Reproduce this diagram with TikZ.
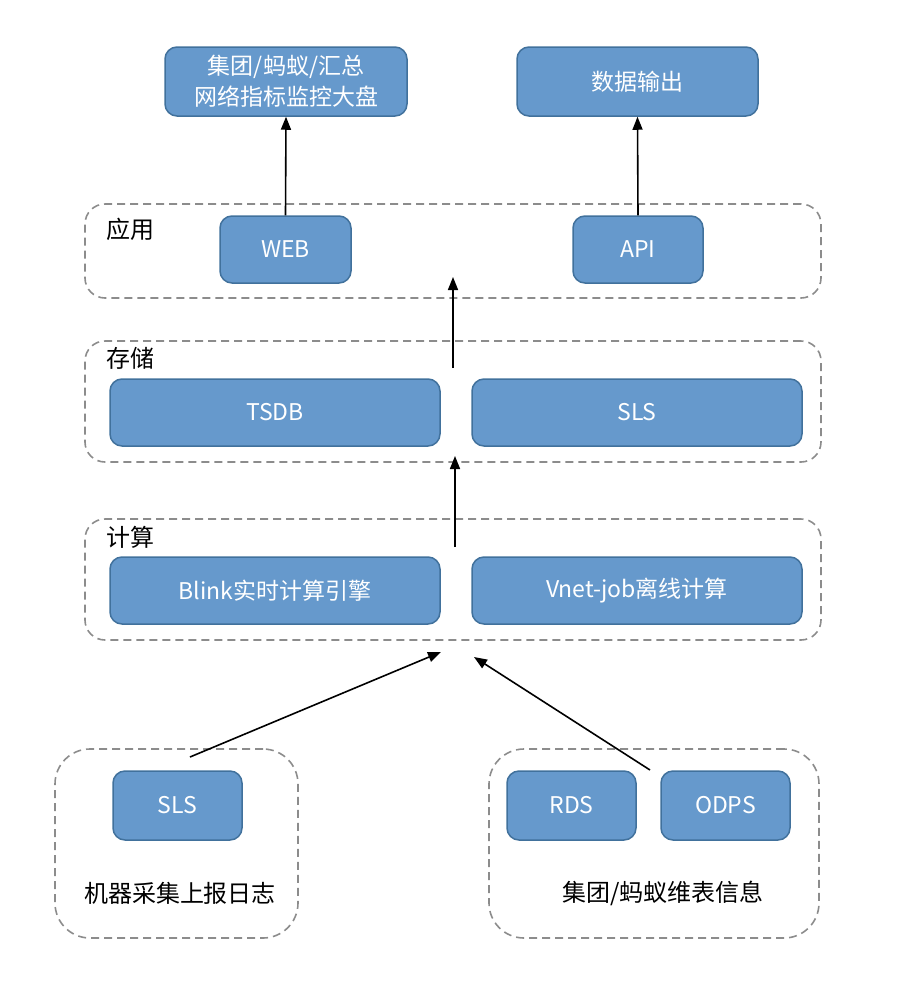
\documentclass[tikz,border=0pt]{standalone}
\usepackage{fontspec}
\setmainfont{Noto Sans CJK SC}
\usetikzlibrary{arrows.meta}
\definecolor{boxfill}{HTML}{6699CC}
\definecolor{boxline}{HTML}{41719C}
\definecolor{grpline}{HTML}{8C8C8C}
\tikzset{
  bluebox/.style={draw=boxline, fill=boxfill, line width=1.5pt, rounded corners=12pt,
    text=white, font=\fontsize{23}{31}\selectfont, align=center, inner sep=0pt},
  grp/.style={draw=grpline, line width=1.6pt, dash pattern=on 8pt off 5pt, rounded corners=20pt, inner sep=0pt},
  grplabel/.style={font=\fontsize{24}{28}\selectfont, text=black, inner sep=0pt},
  arr/.style={line width=1.6pt, -{Triangle[length=13pt,width=10pt]}}
}
\begin{document}
\begin{tikzpicture}[x=1pt,y=-1pt]
\useasboundingbox (0,0) rectangle (900,986);
% groups
\node[grp, minimum width=736pt, minimum height=94pt] (gapp) at (453,251) {};
\node[grp, minimum width=736pt, minimum height=121pt] (gstore) at (453,401.5) {};
\node[grp, minimum width=736pt, minimum height=121pt] (gcomp) at (453,579.5) {};
\node[grp, rounded corners=35pt, minimum width=243pt, minimum height=189pt] (gbl) at (176.5,843.5) {};
\node[grp, rounded corners=35pt, minimum width=330pt, minimum height=189pt] (gbr) at (654,843.5) {};
\node[grplabel] (lapp) at (130,229) {应用};
\node[grplabel] (lstore) at (130,358) {存储};
\node[grplabel] (lcomp) at (130,537) {计算};
\node[grplabel] (lbl) at (180,893) {机器采集上报日志};
\node[grplabel] (lbr) at (663,893) {集团/蚂蚁维表信息};
% boxes
\node[bluebox, minimum width=242pt, minimum height=69pt] (top1) at (286,81.5) {集团/蚂蚁/汇总\\网络指标监控大盘};
\node[bluebox, minimum width=241pt, minimum height=69pt] (top2) at (637.5,81.5) {数据输出};
\node[bluebox, minimum width=131pt, minimum height=67pt] (web) at (285.5,249.5) {WEB};
\node[bluebox, minimum width=130pt, minimum height=67pt] (api) at (638,249.5) {API};
\node[bluebox, minimum width=330pt, minimum height=67pt] (tsdb) at (275,412.5) {TSDB};
\node[bluebox, minimum width=330pt, minimum height=67pt] (sls) at (637,412.5) {SLS};
\node[bluebox, minimum width=330pt, minimum height=67pt] (blink) at (275,590.5) {Blink实时计算引擎};
\node[bluebox, minimum width=330pt, minimum height=67pt] (vnet) at (637,590.5) {Vnet-job离线计算};
\node[bluebox, minimum width=129pt, minimum height=69pt] (sls2) at (177.5,805.5) {SLS};
\node[bluebox, minimum width=129pt, minimum height=69pt] (rds) at (571.5,805.5) {RDS};
\node[bluebox, minimum width=129pt, minimum height=69pt] (odps) at (725.5,805.5) {ODPS};
% connector end points
\coordinate (s1) at (453,368);
\coordinate (e1) at (453,277);
\coordinate (s2) at (455,547);
\coordinate (e2) at (455,456);
\coordinate (s3) at (190,757);
\coordinate (e3) at (441,652);
\coordinate (s4) at (650,770);
\coordinate (e4) at (474,657);
% arrows
\draw[arr] (web.north) -- (top1.south);
\draw[arr] (api.north) -- (top2.south);
\draw[arr] (s1) -- (e1);
\draw[arr] (s2) -- (e2);
\draw[arr] (s3) -- (e3);
\draw[arr] (s4) -- (e4);
\end{tikzpicture}
\end{document}
